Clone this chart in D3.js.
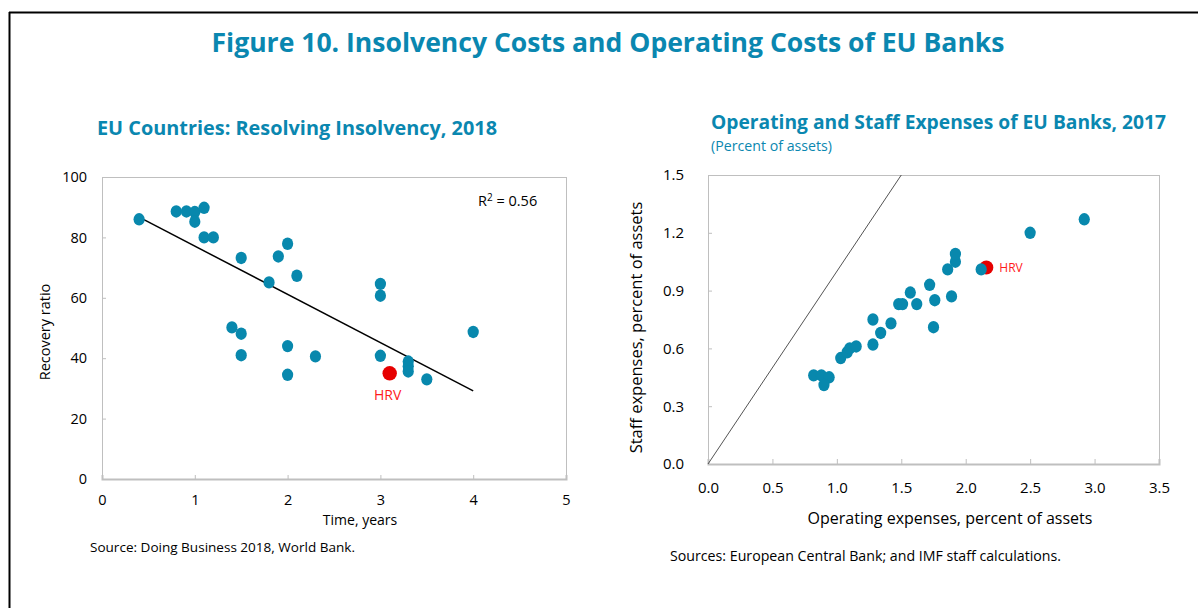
<!DOCTYPE html>
<html>
<head>
<meta charset="utf-8">
<script src="https://cdn.jsdelivr.net/npm/d3@7"></script>
<style>
  body { margin: 0; background: #fff; }
  svg text { font-family: "Open Sans", "Noto Sans", sans-serif; }
</style>
</head>
<body>
<svg id="fig" width="1198" height="608"></svg>
<script>
// left panel: time to resolve insolvency (years) vs recovery ratio
let insolvencyYears    = [0.4, 0.8, 0.91, 1.0, 1.1, 1.0, 1.1, 1.2, 1.5, 2.0, 1.9, 2.1, 1.8, 3.0, 3.0, 4.0, 1.4, 1.5, 1.5, 2.0, 2.0, 2.3, 3.0, 3.3, 3.3, 3.3, 3.5];
let insolvencyRecovery = [86, 88.6, 88.6, 88.4, 89.8, 85.2, 80, 80, 73.2, 77.9, 73.7, 67.3, 65.1, 64.6, 60.7, 48.7, 50.2, 48.1, 41.0, 44.0, 34.5, 40.6, 40.8, 38.9, 37.3, 35.6, 33.0];
let hrvInsolvency = [3.1, 35.0];
let trendYears = [0.4, 4.0];
let trendRecovery = [86.7, 29.2];
let leftXTicks = [0, 1, 2, 3, 4, 5];
let leftYTicks = [0, 20, 40, 60, 80, 100];

// right panel: operating vs staff expenses, percent of assets
let opExpenses    = [0.82, 0.88, 0.94, 0.90, 1.03, 1.08, 1.10, 1.15, 1.28, 1.28, 1.34, 1.42, 1.48, 1.51, 1.57, 1.62, 1.72, 1.76, 1.75, 1.89, 1.86, 1.92, 1.92, 2.12, 2.50, 2.92];
let staffExpenses = [0.46, 0.46, 0.45, 0.41, 0.55, 0.58, 0.60, 0.61, 0.62, 0.75, 0.68, 0.73, 0.83, 0.83, 0.89, 0.83, 0.93, 0.85, 0.71, 0.87, 1.01, 1.05, 1.09, 1.01, 1.20, 1.27];
let hrvBank = [2.16, 1.02];
let diagonal = [0, 1.5];
let rightXTicks = [0, 0.5, 1.0, 1.5, 2.0, 2.5, 3.0, 3.5];
let rightYTicks = [0, 0.3, 0.6, 0.9, 1.2, 1.5];

let teal = "#0a87b0";
let dotColor = "#0888ad";
let red = "#e60000";
let frameColor = "#bfbfbf";

let svg = d3.select("#fig");

// figure frame (left and top rules)
svg.append("line").attr("x1", 9.5).attr("x2", 9.5).attr("y1", 12).attr("y2", 608)
  .attr("stroke", "#000").attr("stroke-width", 2);
svg.append("line").attr("x1", 9).attr("x2", 1198).attr("y1", 12.5).attr("y2", 12.5)
  .attr("stroke", "#000").attr("stroke-width", 2);

svg.append("text")
  .attr("x", 608).attr("y", 52)
  .attr("text-anchor", "middle")
  .attr("font-size", "27px").attr("font-weight", "700")
  .attr("fill", teal)
  .attr("textLength", 793).attr("lengthAdjust", "spacingAndGlyphs")
  .text("Figure 10. Insolvency Costs and Operating Costs of EU Banks");

function frame(g, w, h) {
  g.append("rect").attr("x", 0.5).attr("y", 0.5).attr("width", w).attr("height", h)
    .attr("fill", "none").attr("stroke", frameColor).attr("stroke-width", 1);
}

// ---------- left panel ----------
let L = { left: 102, top: 177, width: 464, height: 302 };
let xL = d3.scaleLinear().domain([0, 5]).range([0, L.width]);
let yL = d3.scaleLinear().domain([0, 100]).range([L.height, 0]);
let gL = svg.append("g").attr("transform", "translate(" + L.left + "," + L.top + ")");

svg.append("text")
  .attr("x", 97).attr("y", 135)
  .attr("font-size", "20px").attr("font-weight", "700").attr("fill", teal)
  .attr("textLength", 400).attr("lengthAdjust", "spacingAndGlyphs")
  .text("EU Countries: Resolving Insolvency, 2018");

frame(gL, L.width, L.height);

gL.append("g").attr("transform", "translate(0," + L.height + ")")
  .call(d3.axisBottom(xL).tickValues(leftXTicks).tickSize(-4).tickPadding(16).tickFormat(d3.format("d")))
  .call(ax => {
    ax.select(".domain").attr("stroke", frameColor).attr("stroke-width", 2);
    ax.selectAll(".tick line").attr("stroke", frameColor);
    ax.selectAll("text").attr("font-size", "14.5px").attr("fill", "#000");
  });
gL.append("g")
  .call(d3.axisLeft(yL).tickValues(leftYTicks).tickSize(-4).tickPadding(15))
  .call(ax => {
    ax.select(".domain").attr("stroke", frameColor);
    ax.selectAll(".tick line").attr("stroke", frameColor);
    ax.selectAll("text").attr("font-size", "14.5px").attr("fill", "#000");
  });

gL.append("text")
  .attr("transform", "translate(-52," + (L.height / 2 + 4) + ") rotate(-90)")
  .attr("text-anchor", "middle").attr("font-size", "14.5px").attr("fill", "#000")
  .text("Recovery ratio");
gL.append("text")
  .attr("x", 258).attr("y", 348)
  .attr("text-anchor", "middle").attr("font-size", "14px").attr("fill", "#000")
  .text("Time, years");

gL.append("path")
  .datum(d3.zip(trendYears, trendRecovery))
  .attr("d", d3.line().x(d => xL(d[0])).y(d => yL(d[1])))
  .attr("stroke", "#000").attr("stroke-width", 1.5).attr("fill", "none");

gL.selectAll(".dot")
  .data(d3.zip(insolvencyYears, insolvencyRecovery))
  .enter().append("ellipse").attr("class", "dot")
  .attr("cx", d => xL(d[0])).attr("cy", d => yL(d[1]))
  .attr("rx", 5.6).attr("ry", 6.2)
  .attr("fill", dotColor);

gL.append("circle")
  .attr("cx", xL(hrvInsolvency[0])).attr("cy", yL(hrvInsolvency[1]))
  .attr("r", 7.2).attr("fill", red);
gL.append("text")
  .attr("x", xL(hrvInsolvency[0]) - 2).attr("y", yL(hrvInsolvency[1]) + 27)
  .attr("text-anchor", "middle").attr("font-size", "14px").attr("fill", "#ff1a1a")
  .text("HRV");

let r2 = gL.append("text").attr("x", 376).attr("y", 29).attr("font-size", "14.5px").attr("fill", "#000");
r2.append("tspan").text("R");
r2.append("tspan").attr("dy", -5).attr("font-size", "10px").text("2");
r2.append("tspan").attr("dy", 5).text(" = 0.56");

svg.append("text")
  .attr("x", 90).attr("y", 552).attr("font-size", "13.5px").attr("fill", "#000")
  .attr("textLength", 265).attr("lengthAdjust", "spacingAndGlyphs")
  .text("Source: Doing Business 2018, World Bank.");

// ---------- right panel ----------
let R = { left: 708, top: 175, width: 451, height: 289 };
let xR = d3.scaleLinear().domain([0, 3.5]).range([0, R.width]);
let yR = d3.scaleLinear().domain([0, 1.5]).range([R.height, 0]);
let gR = svg.append("g").attr("transform", "translate(" + R.left + "," + R.top + ")");

svg.append("text")
  .attr("x", 711).attr("y", 129)
  .attr("font-size", "20px").attr("font-weight", "700").attr("fill", teal)
  .attr("textLength", 455).attr("lengthAdjust", "spacingAndGlyphs")
  .text("Operating and Staff Expenses of EU Banks, 2017");
svg.append("text")
  .attr("x", 711).attr("y", 151)
  .attr("font-size", "14px").attr("fill", teal)
  .attr("textLength", 121).attr("lengthAdjust", "spacingAndGlyphs")
  .text("(Percent of assets)");

frame(gR, R.width, R.height);

gR.append("g").attr("transform", "translate(0," + R.height + ")")
  .call(d3.axisBottom(xR).tickValues(rightXTicks).tickSize(-5).tickPadding(18).tickFormat(d3.format(".1f")))
  .call(ax => {
    ax.select(".domain").attr("stroke", frameColor).attr("stroke-width", 2);
    ax.selectAll(".tick line").attr("stroke", frameColor);
    ax.selectAll("text").attr("font-size", "15px").attr("fill", "#000");
  });
gR.append("g")
  .call(d3.axisLeft(yR).tickValues(rightYTicks).tickSize(-4).tickPadding(24).tickFormat(d3.format(".1f")))
  .call(ax => {
    ax.select(".domain").attr("stroke", frameColor);
    ax.selectAll(".tick line").attr("stroke", frameColor);
    ax.selectAll("text").attr("font-size", "15px").attr("fill", "#000");
  });

gR.append("text")
  .attr("transform", "translate(-66," + (R.height / 2 + 8) + ") rotate(-90)")
  .attr("text-anchor", "middle").attr("font-size", "16.5px").attr("fill", "#000")
  .text("Staff expenses, percent of assets");
gR.append("text")
  .attr("x", 242).attr("y", 349)
  .attr("text-anchor", "middle").attr("font-size", "16px").attr("fill", "#000")
  .text("Operating expenses, percent of assets");

gR.append("line")
  .attr("x1", xR(diagonal[0])).attr("y1", yR(diagonal[0]))
  .attr("x2", xR(diagonal[1])).attr("y2", yR(diagonal[1]))
  .attr("stroke", "#404040").attr("stroke-width", 0.9);

gR.append("circle")
  .attr("cx", xR(hrvBank[0])).attr("cy", yR(hrvBank[1]))
  .attr("r", 7).attr("fill", red);
gR.append("text")
  .attr("x", xR(hrvBank[0]) + 13).attr("y", yR(hrvBank[1]) + 5)
  .attr("font-size", "12px").attr("fill", "#ff1a1a")
  .text("HRV");

gR.selectAll(".dot")
  .data(d3.zip(opExpenses, staffExpenses))
  .enter().append("ellipse").attr("class", "dot")
  .attr("cx", d => xR(d[0])).attr("cy", d => yR(d[1]))
  .attr("rx", 5.6).attr("ry", 6.2)
  .attr("fill", dotColor);

svg.append("text")
  .attr("x", 670).attr("y", 561).attr("font-size", "14px").attr("fill", "#000")
  .attr("textLength", 391).attr("lengthAdjust", "spacingAndGlyphs")
  .text("Sources: European Central Bank; and IMF staff calculations.");
</script>
</body>
</html>
